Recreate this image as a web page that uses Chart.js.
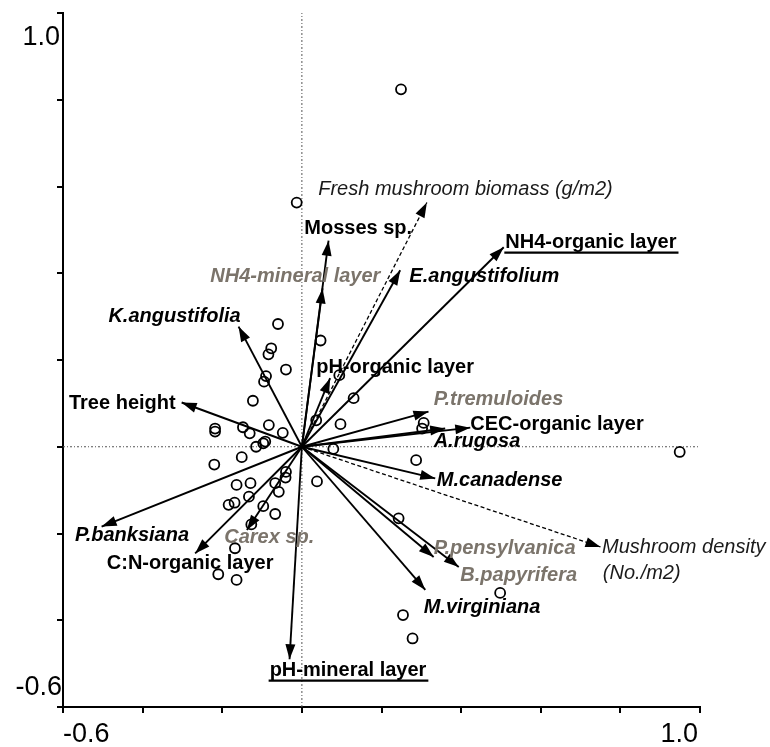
<!DOCTYPE html>
<html><head><meta charset="utf-8">
<script src="https://cdn.jsdelivr.net/npm/chart.js@4.4.1/dist/chart.umd.min.js"></script>
<style>html,body{margin:0;padding:0;background:#fff}#wrap{width:770px;height:747px;position:relative}</style>
</head><body><div id="wrap"><canvas id="c"></canvas></div>
<script>
// ---------- DATA ----------
const axisMin = -0.6;
const axisMax = 1.0;
const axisStep = 0.2;
const tickLabels = ['-0.6', '1.0'];

// Sample (site) scores
const siteX = [0.249,-0.013,-0.060,-0.077,-0.084,-0.040,-0.090,-0.095,-0.123,0.047,
  -0.218,-0.218,-0.148,-0.131,-0.083,-0.048,-0.092,-0.097,-0.115,-0.220,
  -0.151,-0.040,-0.041,-0.067,-0.058,-0.164,-0.129,-0.133,-0.184,-0.169,
  -0.097,-0.067,-0.127,-0.168,-0.210,-0.164,0.038,0.079,0.097,0.094,
  0.130,0.036,0.306,0.302,0.287,0.243,0.498,0.254,0.278,0.949];
const siteY = [0.824,0.563,0.283,0.227,0.213,0.178,0.163,0.150,0.106,0.245,
  0.042,0.035,0.045,0.031,0.050,0.032,0.012,0.008,0.000,-0.041,
  -0.024,-0.058,-0.071,-0.084,-0.104,-0.088,-0.084,-0.115,-0.134,-0.129,
  -0.137,-0.155,-0.179,-0.234,-0.294,-0.307,-0.080,-0.005,0.052,0.165,
  0.112,0.061,0.055,0.042,-0.031,-0.165,-0.337,-0.388,-0.442,-0.012];

// Biplot vectors
const vectorNames = ['Fresh mushroom biomass (g/m2)','Mosses sp.','NH4-mineral layer','E.angustifolium',
  'NH4-organic layer','K.angustifolia','pH-organic layer','Tree height','P.tremuloides','A.rugosa',
  'CEC-organic layer','M.canadense','Mushroom density (No./m2)','P.pensylvanica','B.papyrifera',
  'M.virginiana','pH-mineral layer','P.banksiana','C:N-organic layer','Carex sp.'];
const vectorX = [0.314,0.067,0.052,0.247,0.507,-0.159,0.071,-0.302,0.318,0.360,
  0.423,0.335,0.750,0.331,0.394,0.310,-0.031,-0.503,-0.268,-0.138];
const vectorY = [0.563,0.475,0.365,0.407,0.460,0.277,0.158,0.102,0.081,0.042,
  0.044,-0.073,-0.231,-0.254,-0.277,-0.330,-0.490,-0.184,-0.246,-0.192];
// vector kind: 'resp' = response variable (dashed), 'env' = explanatory variable
const vectorKind = ['resp','env','env','env','env','env','env','env','env','env',
  'env','env','resp','env','env','env','env','env','env','env'];

// Label texts and their anchors (data units, left / baseline)
const labelText = ['Fresh mushroom biomass (g/m2)','Mosses sp.','NH4-mineral layer','E.angustifolium',
  'NH4-organic layer','K.angustifolia','pH-organic layer','Tree height','P.tremuloides','A.rugosa',
  'CEC-organic layer','M.canadense','Mushroom density','(No./m2)','P.pensylvanica','B.papyrifera',
  'M.virginiana','pH-mineral layer','P.banksiana','C:N-organic layer','Carex sp.'];
const labelX = [0.041,0.006,-0.230,0.270,0.511,-0.486,0.036,-0.585,0.331,0.331,
  0.423,0.339,0.754,0.756,0.331,0.398,0.306,-0.081,-0.570,-0.490,-0.195];
const labelY = [0.580,0.490,0.380,0.380,0.458,0.288,0.169,0.086,0.096,-0.001,
  0.038,-0.091,-0.246,-0.306,-0.248,-0.310,-0.383,-0.529,-0.217,-0.282,-0.223];
// label type: 'resp' italic, 'var' bold, 'varU' bold underlined, 'sp' bold italic, 'spG' bold italic gray
const labelType = ['resp','var','spG','sp','varU','sp','var','var','spG','sp',
  'var','sp','resp','resp','spG','spG','sp','varU','sp','var','spG'];

// ---------- STYLES ----------
const FONT = '"Liberation Sans", Arial, Helvetica, sans-serif';
const labelStyles = {
  resp: {font: 'italic 400 20px ' + FONT, color: '#1a1a1a', underline: false},
  var:  {font: '700 20px ' + FONT, color: '#000', underline: false},
  varU: {font: '700 20px ' + FONT, color: '#000', underline: true},
  sp:   {font: 'italic 700 20px ' + FONT, color: '#000', underline: false},
  spG:  {font: 'italic 700 20px ' + FONT, color: '#7b746b', underline: false}
};

const datasets = [];
datasets.push({
  label: 'sites',
  data: siteX.map((x, i) => ({x, y: siteY[i]})),
  showLine: false,
  pointRadius: 5,
  pointHoverRadius: 5,
  pointBorderWidth: 1.8,
  pointBorderColor: '#000',
  pointBackgroundColor: 'rgba(0,0,0,0)'
});
vectorNames.forEach((name, i) => {
  const resp = vectorKind[i] === 'resp';
  datasets.push({
    label: name,
    isArrow: true,
    data: [{x: 0, y: 0}, {x: vectorX[i], y: vectorY[i]}],
    showLine: true,
    borderColor: '#000',
    borderWidth: resp ? 1.3 : 1.9,
    borderDash: resp ? [4, 2.5] : [],
    pointRadius: 0,
    pointHoverRadius: 0,
    fill: false
  });
});
// origin reference lines
datasets.push({
  label: 'h0', data: [{x: axisMin, y: 0}, {x: axisMax, y: 0}], showLine: true,
  borderColor: '#555', borderWidth: 1, borderDash: [2, 2, 1, 2], pointRadius: 0
});
datasets.push({
  label: 'v0', data: [{x: 0, y: axisMin}, {x: 0, y: axisMax}], showLine: true,
  borderColor: '#555', borderWidth: 1, borderDash: [2, 2, 1, 2], pointRadius: 0
});

const arrowPlugin = {
  id: 'arrows',
  afterDatasetsDraw(chart) {
    const ctx = chart.ctx;
    chart.data.datasets.forEach((ds, i) => {
      if (!ds.isArrow) return;
      const meta = chart.getDatasetMeta(i);
      const p0 = meta.data[0], p1 = meta.data[1];
      const a = Math.atan2(p1.y - p0.y, p1.x - p0.x);
      const L = 15, W = 5;
      ctx.save();
      ctx.fillStyle = '#000';
      ctx.beginPath();
      ctx.moveTo(p1.x, p1.y);
      ctx.lineTo(p1.x - L * Math.cos(a) + W * Math.sin(a), p1.y - L * Math.sin(a) - W * Math.cos(a));
      ctx.lineTo(p1.x - L * Math.cos(a) - W * Math.sin(a), p1.y - L * Math.sin(a) + W * Math.cos(a));
      ctx.closePath();
      ctx.fill();
      ctx.restore();
    });
    // labels
    const xs = chart.scales.x, ys = chart.scales.y;
    labelText.forEach((t, i) => {
      const st = labelStyles[labelType[i]];
      const px = xs.getPixelForValue(labelX[i]);
      const py = ys.getPixelForValue(labelY[i]);
      ctx.save();
      ctx.font = st.font;
      ctx.fillStyle = st.color;
      ctx.textAlign = 'left';
      ctx.textBaseline = 'alphabetic';
      ctx.fillText(t, px, py);
      if (st.underline) {
        const w = ctx.measureText(t).width;
        ctx.strokeStyle = st.color;
        ctx.lineWidth = 2.2;
        ctx.beginPath();
        ctx.moveTo(px - 1, py + 4.5);
        ctx.lineTo(px + w + 2, py + 4.5);
        ctx.stroke();
      }
      ctx.restore();
    });
  },
  afterDraw(chart) {
    const ctx = chart.ctx;
    const xs = chart.scales.x, ys = chart.scales.y;
    ctx.save();
    ctx.font = '400 27px ' + FONT;
    ctx.fillStyle = '#000';
    ctx.textBaseline = 'alphabetic';
    // y axis end labels
    ctx.textAlign = 'right';
    ctx.fillText(tickLabels[1], xs.left - 3, ys.getPixelForValue(axisMax) + 32);
    ctx.fillText(tickLabels[0], xs.left - 1, ys.getPixelForValue(axisMin) - 12);
    // x axis end labels
    ctx.textAlign = 'left';
    ctx.fillText(tickLabels[0], xs.getPixelForValue(axisMin), ys.bottom + 35);
    ctx.textAlign = 'right';
    ctx.fillText(tickLabels[1], xs.getPixelForValue(axisMax) - 2, ys.bottom + 35);
    ctx.restore();
  }
};

const axisCfg = {
  type: 'linear',
  min: axisMin,
  max: axisMax,
  ticks: {display: false, stepSize: axisStep},
  grid: {display: true, drawOnChartArea: false, drawTicks: true, tickLength: 6, color: '#000', lineWidth: 2},
  border: {display: true, color: '#000', width: 2}
};

new Chart(document.getElementById('c'), {
  type: 'scatter',
  data: {datasets},
  options: {
    responsive: true,
    maintainAspectRatio: false,
    animation: false,
    layout: {padding: {left: 57, right: 70, top: 13, bottom: 34}},
    plugins: {legend: {display: false}, tooltip: {enabled: false}},
    scales: {
      x: Object.assign({position: 'bottom'}, JSON.parse(JSON.stringify(axisCfg))),
      y: Object.assign({position: 'left'}, JSON.parse(JSON.stringify(axisCfg)))
    }
  },
  plugins: [arrowPlugin]
});
</script>
</body></html>
